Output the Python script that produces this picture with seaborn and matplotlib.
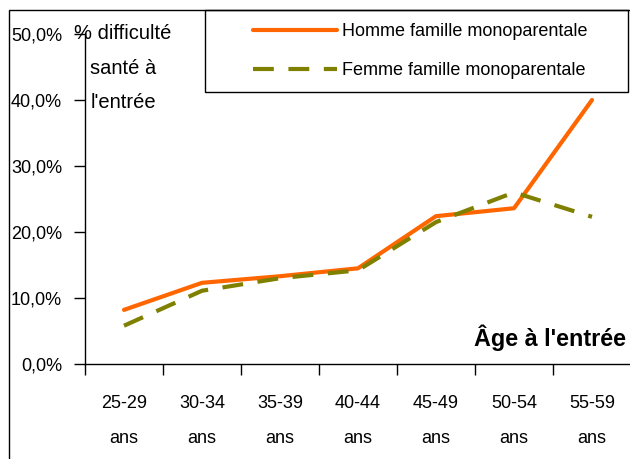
import numpy as np
import pandas as pd
import seaborn as sns
import matplotlib.pyplot as plt
from matplotlib.patches import Rectangle

# values (% with health difficulty at entry)
ages = ['25-29\nans', '30-34\nans', '35-39\nans', '40-44\nans',
        '45-49\nans', '50-54\nans', '55-59\nans']
homme = [8.2, 12.3, 13.3, 14.5, 22.4, 23.6, 40.0]
femme = [5.8, 11.1, 13.0, 14.2, 21.5, 26.0, 22.3]
series = ['Homme famille monoparentale', 'Femme famille monoparentale']
yticks = [0, 10, 20, 30, 40, 50]

df = pd.DataFrame({
    'age': ages * 2,
    'pct': homme + femme,
    'serie': [series[0]] * len(ages) + [series[1]] * len(ages),
})

sns.set_style('white')
plt.rcParams['font.family'] = ['Liberation Sans', 'DejaVu Sans']
for k in ['text.color', 'axes.labelcolor', 'xtick.color', 'ytick.color']:
    plt.rcParams[k] = 'black'

W, H = 630, 459
FS = 13
fig = plt.figure(figsize=(6.3, 4.59), dpi=100)
ax = fig.add_axes([85 / W, 1 - 364 / H, 546 / W, 330 / H])

sns.lineplot(data=df, x='age', y='pct', hue='serie', style='serie', ax=ax,
             palette={series[0]: '#FF6600', series[1]: '#808000'},
             dashes={series[0]: '', series[1]: (5, 3.5)},
             sort=False, lw=3, legend=True)

ax.set_xlim(-0.5, 6.5)
ax.set_ylim(0, 50)
ax.set_yticks(yticks)
ax.set_yticklabels([f'{v:.1f}%'.replace('.', ',') for v in yticks], fontsize=FS)
ax.set_xticks(range(len(ages)))
ax.set_xticklabels(ages, fontsize=FS)
for lab in ax.get_xticklabels():
    lab.set_linespacing(2.4)
ax.set_xticks(np.arange(-0.5, 7, 1), minor=True)
ax.tick_params(axis='x', which='major', length=0, pad=22)
ax.tick_params(axis='x', which='minor', bottom=True, length=8, width=1,
               direction='out', color='black')
ax.tick_params(axis='y', left=True, length=8, width=1, direction='out',
               color='black', pad=8.5)
ax.set_xlabel('')
ax.set_ylabel('')
for s in ['top', 'right']:
    ax.spines[s].set_visible(False)
for s in ['left', 'bottom']:
    ax.spines[s].set_color('black')
    ax.spines[s].set_linewidth(1)

handles, labels = ax.get_legend_handles_labels()
ax.legend(handles, labels, loc='upper left',
          bbox_to_anchor=(253 / W, 1 - 23 / H), bbox_transform=fig.transFigure,
          frameon=False, handlelength=4.65, handletextpad=0.28,
          fontsize=FS, labelspacing=1.22, borderpad=0, borderaxespad=0)

# outer chart frame and legend box
fig.patches.append(Rectangle((9 / W, -0.1), 1.0, 1 - 10 / H + 0.1,
                             transform=fig.transFigure, fill=False,
                             edgecolor='black', lw=1))
fig.patches.append(Rectangle((205 / W, 1 - 92 / H), 423 / W, 82 / H,
                             transform=fig.transFigure, fill=False,
                             edgecolor='black', lw=1))

fig.text(123 / W, 1 - 24 / H, "% difficulté\nsanté à\nl'entrée",
         ha='center', va='top', fontsize=14.5, linespacing=2.05)
fig.text(626 / W, 1 - 338 / H, "Âge à l'entrée", ha='right', va='center',
         fontsize=16.8, fontweight='bold')

fig.savefig('out.png', dpi=100)
